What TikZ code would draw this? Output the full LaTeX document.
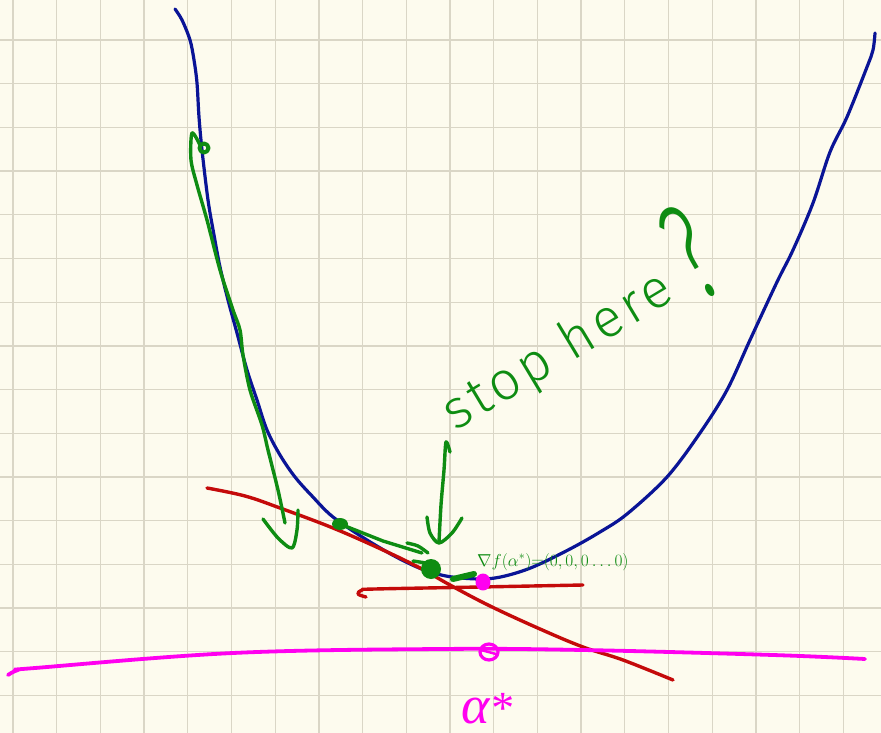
\documentclass[tikz,border=0pt]{standalone}
\usepackage{fontspec}
\setmainfont{Fira Sans}
\newfontfamily\handfont[LetterSpace=8]{Fira Sans Light}
\newfontfamily\qmfont{Fira Sans Light}
\newfontfamily\greekfont{Liberation Serif}
\definecolor{paper}{HTML}{FDFBEE}
\definecolor{gridc}{HTML}{DAD6C6}
\definecolor{navy}{HTML}{0A1496}
\definecolor{pen}{HTML}{0E8C12}
\definecolor{redpen}{HTML}{C40A0A}
\definecolor{mag}{HTML}{FF00F0}
\begin{document}
\begin{tikzpicture}[x=1pt,y=-1pt, line cap=round, line join=round,
  gridline/.style={gridc, line width=1.3pt},
  bluepen/.style={navy, line width=3.2pt},
  greenpen/.style={pen, line width=3.4pt},
  redstroke/.style={redpen, line width=3.4pt},
  magstroke/.style={mag, line width=3.8pt},
  hand/.style={text=pen, inner sep=0pt, rotate=31}]
\useasboundingbox (0,0) rectangle (881,733);
\fill[paper] (0,0) rectangle (881,733);
\foreach \k in {0,...,19} \draw[gridline] ({13+43.7*\k},0) -- ({13+43.7*\k},733);
\foreach \k in {0,...,15} \draw[gridline] (0,{40+43.7*\k}) -- (881,{40+43.7*\k});
% blue function
\draw[bluepen] plot[smooth, tension=0.55] coordinates {(175,9) (182,20) (190,40) (194,60) (197,83) (199,117) (202,150) (208,200) (214,235) (220,267) (228,300) (237,333) (247,370) (257,400) (267,430) (280,455) (295,477) (312,496) (333,517) (367,540) (400,559) (427,571) (452,577) (483,579) (505,576) (533,567) (570,549) (600,532) (627,514) (667,477) (700,433) (727,390) (750,340) (777,282) (793,250) (813,203) (830,152) (847,117) (867,67) (873,50) (875,33)};
% red tangents
\draw[redstroke] plot[smooth, tension=0.6] coordinates {(207,488) (245,496) (280,508) (333,528) (383,550) (420,568) (450,585) (490,606) (540,629) (583,647) (623,660) (673,680)};
\draw[redstroke] plot[smooth, tension=0.6] coordinates {(366,597) (358,594) (362,590) (375,589) (480,587) (583,585)};
% magenta axis
\draw[magstroke] plot[smooth, tension=0.6] coordinates {(8,675) (18,670) (35,668) (233,653) (440,649) (583,650) (773,655) (865,659)};
\draw[mag, line width=3.2pt] (489,652) ellipse [x radius=9, y radius=8];
\draw[mag, line width=2.5pt] (481,650) -- (496,654);
\draw[mag, fill=mag, line width=3pt] (483,582) ellipse [x radius=6, y radius=7];
% green descent path
\draw[greenpen, line width=4pt] (204,148) circle [radius=4.5];
\draw[greenpen] plot[smooth, tension=0.5] coordinates {(200,145) (192,133) (191,160) (197,185) (207,220) (220,270) (233,310) (240,330) (243,355) (250,390) (262,425) (268,450) (278,490) (285,523)};
\draw[greenpen] plot[smooth, tension=0.5] coordinates {(263,519) (278,538) (292,548) (297,530) (298,510)};
\fill[pen] (340,524) ellipse [x radius=8, y radius=6];
\draw[greenpen] (340,524) -- (383,541) -- (422,553);
\draw[greenpen] plot[smooth] coordinates {(407,543) (418,546) (428,553)};
\draw[greenpen] (413,561) -- (426,563);
\fill[pen] (431,569) circle [radius=10];
\draw[greenpen, line width=6pt] (453,579) -- (474,574);
\draw[greenpen] plot[smooth, tension=0.5] coordinates {(450,452) (446,442) (444,470) (441,505) (439,542)};
\draw[greenpen] plot[smooth, tension=0.5] coordinates {(427,517) (430,533) (439,543) (452,533) (462,518)};
% texts
\node[hand, anchor=base west, font=\handfont\fontsize{54}{60}\selectfont] (stop) at (455,432) {stop here};
\node[hand, rotate=-1, anchor=base, font=\qmfont\fontsize{140}{150}\selectfont] (qm) at (714,294) {\scalebox{0.55}[1]{?}};
\node[text=pen, anchor=base west, inner sep=0pt, font=\fontsize{17.28}{19}\selectfont] (grad) at (477,566) {$\nabla f(\alpha^{*}){=}(0,0,0\ldots0)$};
\node[text=mag, anchor=base west, inner sep=0pt, font=\greekfont\itshape\fontsize{54}{58}\selectfont] (astar) at (461,723) {α{\fontsize{46}{46}\selectfont *}};
\end{tikzpicture}
\end{document}
